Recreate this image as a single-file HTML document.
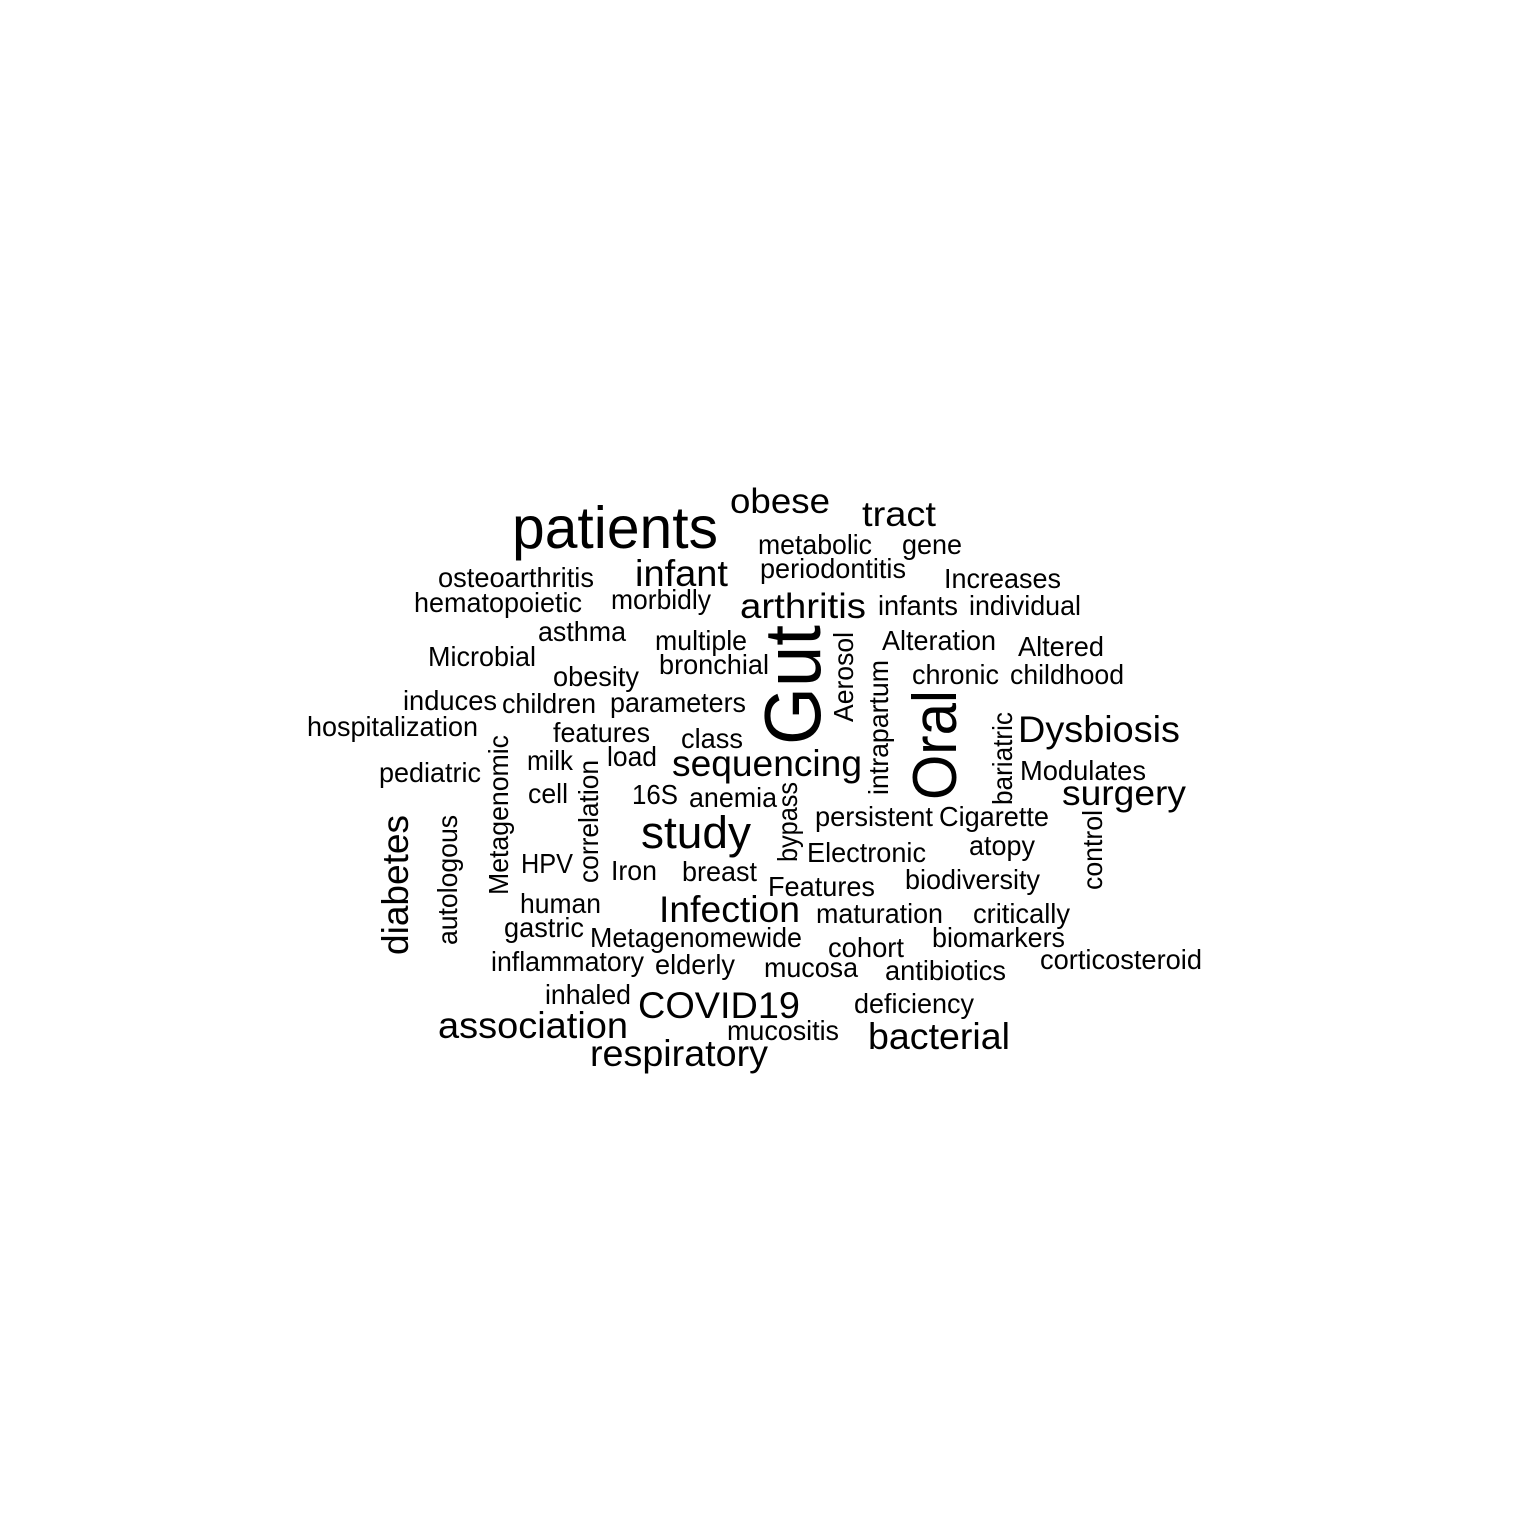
<!DOCTYPE html>
<html><head><meta charset="utf-8"><style>
html,body{margin:0;padding:0;background:#fff;}
svg{display:block;}
text{font-family:"Liberation Sans",Arial,sans-serif;fill:#000;}
</style></head><body>
<svg id="cloud" width="1536" height="1536" viewBox="0 0 1536 1536" xmlns="http://www.w3.org/2000/svg">
<rect width="1536" height="1536" fill="#fff"/>
</svg>
<script>
const words = ["patients","obese","tract","metabolic","gene","osteoarthritis","infant","periodontitis","Increases","hematopoietic","morbidly","arthritis","infants","individual","asthma","multiple","Alteration","Altered","Microbial","obesity","bronchial","chronic","childhood","induces","children","parameters","hospitalization","Dysbiosis","features","class","milk","load","sequencing","pediatric","Modulates","cell","16S","anemia","surgery","persistent","Cigarette","study","Electronic","atopy","HPV","Iron","breast","Features","biodiversity","human","Infection","maturation","critically","gastric","Metagenomewide","cohort","biomarkers","inflammatory","elderly","mucosa","antibiotics","corticosteroid","inhaled","COVID19","deficiency","association","mucositis","bacterial","respiratory"];
const sizes = [59,35,35,27.5,27.5,27.5,37,27.5,27.5,27.5,27.5,35,27.5,27.5,27.5,27.5,27.5,27.5,27.5,27.5,27.5,27.5,27.5,27.5,27.5,27.5,27.5,37,27.5,27.5,27.5,27.5,37,27.5,27.5,27.5,27.5,27.5,35,27.5,27.5,45,27.5,27.5,27.5,27.5,27.5,27.5,27.5,27.5,37,27.5,27.5,27.5,27.5,27.5,27.5,27.5,27.5,27.5,27.5,27.5,27.5,37,27.5,37,27.5,37,37];
const xs = [512,730,862,758,902,438,635,760,944,414,611,740,878,969,538,655,882,1018,428,553,659,912,1010,403,502,610,307,1018,553,681,527,607,672,379,1020,528,632,689,1062,815,939,641,807,969,521,611,682,768,905,520,659,816,973,504,590,828,932,491,655,764,885,1040,545,638,854,438,727,868,590];
const ys = [548,513,526,554,554,587,586,578,588,612,609,618,615,615,641,650,650,656,666,686,674,684,684,710,713,712,736,742,742,748,770,766,776,782,780,803,804,807,805,826,826,848,862,855,873,880,881,896,889,913,922,923,923,937,947,957,947,971,974,977,980,969,1004,1018,1013,1038,1040,1049,1066];
const ws = [206,100,74,114,60,156,93,146,117,168,100,126,80,112,88,92,114,86,108,86,110,87,114,94,94,136,171,162,97,62,46,50,190,102,126,40,46,88,124,118,110,110,119,66,52,46,75,107,135,81,141,127,97,80,212,76,133,153,80,94,121,162,86,162,120,190,112,142,178];
const vWords = ["Gut","Aerosol","intrapartum","Oral","bariatric","Metagenomic","correlation","bypass","diabetes","autologous","control"];
const vSizes = [80,27.5,27.5,62,27.5,27.5,27.5,27.5,37,27.5,27.5];
const vXs = [820,853,888,956,1012,508,598,797,408,457,1102];
const vYs = [745,722,795,800,805,895,883,862,955,945,890];
const vLens = [120,90,135,110,93,160,123,80,140,130,80];
const svg = document.getElementById('cloud');
const NS = "http://www.w3.org/2000/svg";
for (let i = 0; i < words.length; i++) {
  const t = document.createElementNS(NS, 'text');
  t.setAttribute('x', xs[i]);
  t.setAttribute('y', ys[i]);
  t.setAttribute('font-size', sizes[i]);
  t.setAttribute('textLength', ws[i]);
  t.setAttribute('lengthAdjust', 'spacingAndGlyphs');
  t.textContent = words[i];
  
  
  svg.appendChild(t);
}
for (let i = 0; i < vWords.length; i++) {
  const t = document.createElementNS(NS, 'text');
  t.setAttribute('x', 0);
  t.setAttribute('y', 0);
  t.setAttribute('transform', 'translate(' + vXs[i] + ',' + vYs[i] + ') rotate(-90)');
  t.setAttribute('font-size', vSizes[i]);
  t.setAttribute('textLength', vLens[i]);
  t.setAttribute('lengthAdjust', 'spacingAndGlyphs');
  t.textContent = vWords[i];
  
  
  svg.appendChild(t);
}
</script>
</body></html>
